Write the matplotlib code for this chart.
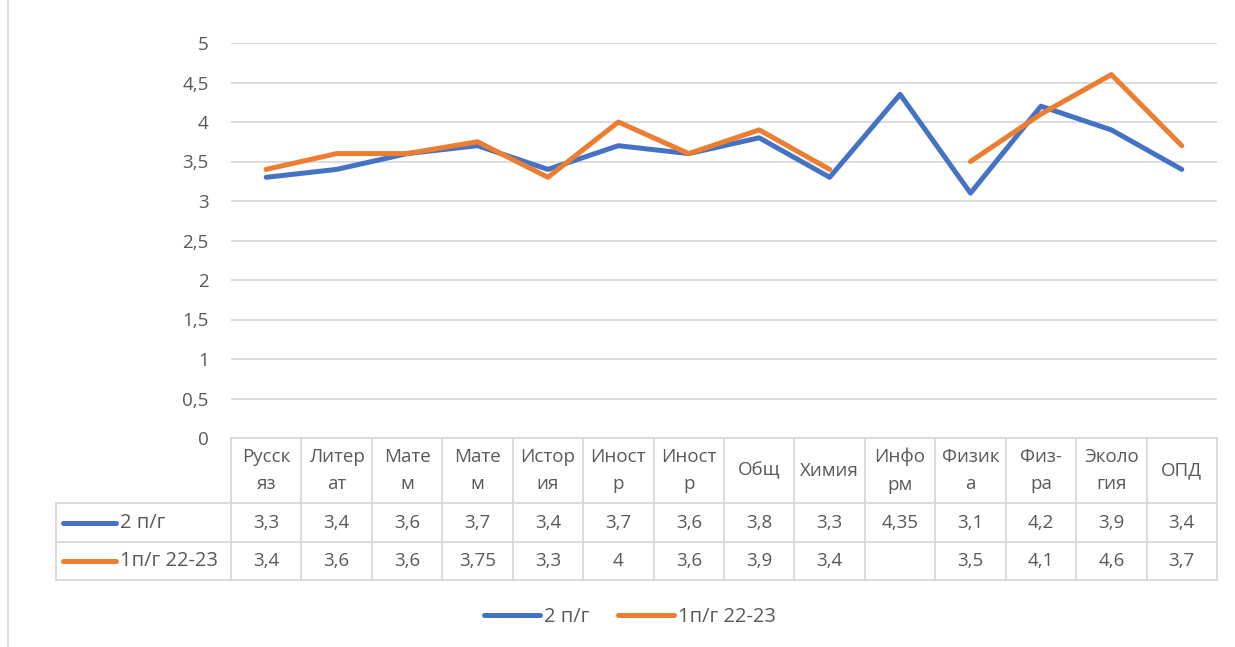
import numpy as np
import matplotlib.pyplot as plt
from matplotlib.lines import Line2D

plt.rcParams['font.family'] = ['Open Sans', 'DejaVu Sans']

# данные
subjects = ['Русск\nяз', 'Литер\nат', 'Мате\nм', 'Мате\nм', 'Истор\nия', 'Иност\nр',
            'Иност\nр', 'Общ', 'Химия', 'Инфо\nрм', 'Физик\nа', 'Физ-\nра',
            'Эколо\nгия', 'ОПД']
s2_name = '2 п/г'
s2 = [3.3, 3.4, 3.6, 3.7, 3.4, 3.7, 3.6, 3.8, 3.3, 4.35, 3.1, 4.2, 3.9, 3.4]
s1_name = '1п/г 22-23'
s1 = [3.4, 3.6, 3.6, 3.75, 3.3, 4, 3.6, 3.9, 3.4, np.nan, 3.5, 4.1, 4.6, 3.7]
yticks = [0, 0.5, 1, 1.5, 2, 2.5, 3, 3.5, 4, 4.5, 5]

blue = '#4472C4'
orange = '#ED7D31'
txt = '#595959'
gridc = '#D9D9D9'
fs = 13.5

W, H = 1235, 647
fig = plt.figure(figsize=(W / 100, H / 100), dpi=100)
ax = fig.add_axes([231 / W, 1 - 438 / H, (1217 - 231) / W, (438 - 43) / H])

x = np.arange(len(subjects))
ax.plot(x, s2, color=blue, lw=3.6, solid_joinstyle='round', solid_capstyle='round', zorder=3)
ax.plot(x, s1, color=orange, lw=3.6, solid_joinstyle='round', solid_capstyle='round', zorder=4)

ax.set_xlim(-0.5, len(subjects) - 0.5)
ax.set_ylim(0, 5)
ax.set_yticks(yticks)
ax.set_yticklabels([('%g' % v).replace('.', ',') for v in yticks], color=txt, fontsize=fs)
ax.tick_params(axis='y', length=0, pad=16)
ax.set_xticks([])
for sp in ax.spines.values():
    sp.set_visible(False)
ax.grid(axis='y', color=gridc, lw=1.3)
ax.set_axisbelow(True)

# таблица данных под графиком
tr = ax.get_xaxis_transform()
ah = 438 - 43
colw = (1217 - 231) / len(subjects)
y_head = -(503 - 438) / ah
y_r1 = -(542 - 438) / ah
y_r2 = -(580 - 438) / ah
x_lab = -0.5 + (56 - 231) / colw

def hline(x0, x1, y):
    ax.add_line(Line2D([x0, x1], [y, y], transform=tr, color=gridc, lw=1.3, clip_on=False))

def vline(xx, y0, y1):
    ax.add_line(Line2D([xx, xx], [y0, y1], transform=tr, color=gridc, lw=1.3, clip_on=False))

hline(-0.5, len(subjects) - 0.5, 0)
hline(x_lab, len(subjects) - 0.5, y_head)
hline(x_lab, len(subjects) - 0.5, y_r1)
hline(x_lab, len(subjects) - 0.5, y_r2)
for i in range(len(subjects) + 1):
    vline(i - 0.5, 0, y_r2)
vline(x_lab, y_head, y_r2)

def fmt(v):
    if np.isnan(v):
        return ''
    return ('%g' % v).replace('.', ',')

for i, name in enumerate(subjects):
    ax.text(i, y_head / 2, name, transform=tr, ha='center', va='center',
            fontsize=fs, color=txt, linespacing=1.7)
    ax.text(i, (y_head + y_r1) / 2, fmt(s2[i]), transform=tr, ha='center', va='center',
            fontsize=fs, color=txt)
    ax.text(i, (y_r1 + y_r2) / 2, fmt(s1[i]), transform=tr, ha='center', va='center',
            fontsize=fs, color=txt)

# подписи строк с образцами линий
for yy, col, name in [((y_head + y_r1) / 2, blue, s2_name), ((y_r1 + y_r2) / 2, orange, s1_name)]:
    x0 = x_lab + (63 - 56) / colw
    x1 = x_lab + (116 - 56) / colw
    ax.add_line(Line2D([x0, x1], [yy, yy], transform=tr, color=col, lw=3.6,
                       solid_capstyle='round', clip_on=False))
    ax.text(x1 + 4 / colw, yy, name, transform=tr, ha='left', va='center',
            fontsize=14.5, color=txt)

# легенда
handles = [Line2D([], [], color=blue, lw=3.6, solid_capstyle='round'),
           Line2D([], [], color=orange, lw=3.6, solid_capstyle='round')]
fig.legend(handles, [s2_name, s1_name], loc='center', bbox_to_anchor=(630 / W, 1 - 617 / H),
           ncol=2, frameon=False, fontsize=14.5, labelcolor=txt, handlelength=2.8,
           handletextpad=0.2, columnspacing=1.4)

# рамка диаграммы слева
fig.add_artist(Line2D([8 / W, 8 / W], [0, 1], transform=fig.transFigure, color=gridc, lw=1.2))

fig.savefig('out.png', dpi=100)
